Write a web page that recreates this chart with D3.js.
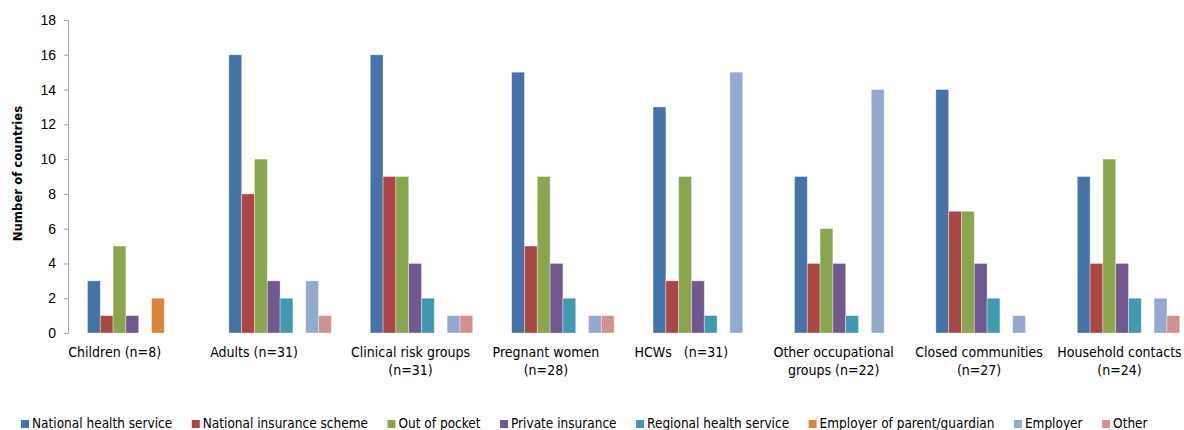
<!DOCTYPE html>
<html>
<head>
<meta charset="utf-8">
<script src="https://cdn.jsdelivr.net/npm/d3@7"></script>
<style>
    body { margin: 0; background: #fff; }
    svg { display: block; font-family: 'DejaVu Sans Condensed', 'DejaVu Sans', sans-serif; }
</style>
</head>
<body>
<svg id="chart" width="1184" height="430"></svg>
<script>
// categories (x axis), each label may wrap onto two lines
const categories = [
    ['Children (n=8)'],
    ['Adults (n=31)'],
    ['Clinical risk groups', '(n=31)'],
    ['Pregnant women', '(n=28)'],
    ['HCWs\u00a0\u00a0\u00a0(n=31)'],
    ['Other occupational', 'groups (n=22)'],
    ['Closed communities', '(n=27)'],
    ['Household contacts', '(n=24)'],
]

const seriesNames = [
    'National health service',
    'National insurance scheme',
    'Out of pocket',
    'Private insurance',
    'Regional health service',
    'Employer of parent/guardian',
    'Employer',
    'Other',
]

// one array per series, in category order
const nationalHealthService = [3, 16, 16, 15, 13, 9, 14, 9]
const nationalInsurance = [1, 8, 9, 5, 3, 4, 7, 4]
const outOfPocket = [5, 10, 9, 9, 9, 6, 7, 10]
const privateInsurance = [1, 3, 4, 4, 3, 4, 4, 4]
const regionalHealth = [0, 2, 2, 2, 1, 1, 2, 2]
const employerOfParent = [2, 0, 0, 0, 0, 0, 0, 0]
const employer = [0, 3, 1, 1, 15, 14, 1, 2]
const other = [0, 1, 1, 1, 0, 0, 0, 1]

const yTicks = [0, 2, 4, 6, 8, 10, 12, 14, 16, 18]

const seriesValues = [
    nationalHealthService, nationalInsurance, outOfPocket, privateInsurance,
    regionalHealth, employerOfParent, employer, other,
]
const colors = ['#4572A7', '#AA4643', '#89A54E', '#71588F', '#4198AF', '#DB843D', '#93A9CF', '#D19392']

// the category labels sit a little left of their group centres in the original
const labelShift = [-24, -26, -11, -17, -23, -12, -8, -9]

const svg = d3.select('#chart')
const plotLeft = 68
const plotTop = 20
const plotBottom = 333
const groupStep = 141.4

const x = d3.scaleBand()
    .domain(d3.range(categories.length))
    .range([plotLeft, plotLeft + groupStep * categories.length])
    .padding(0)

const xInner = d3.scaleBand()
    .domain(d3.range(seriesNames.length))
    .range([0, x.bandwidth()])
    .paddingInner(0)
    .paddingOuter(1.52)

const y = d3.scaleLinear().domain([0, 18]).range([plotBottom, plotTop])

// y axis
const yAxis = svg.append('g')
    .attr('transform', `translate(${plotLeft},0)`)
    .call(d3.axisLeft(y).tickValues(yTicks).tickSize(4).tickPadding(8))
yAxis.select('.domain').attr('stroke', '#A6A6A6').attr('d', `M-4,${plotTop + 0.5}H0.5V${plotBottom + 0.5}H-4`)
yAxis.selectAll('.tick line').attr('stroke', '#A6A6A6')
yAxis.selectAll('.tick text').attr('font-size', 14).attr('fill', '#000').attr('font-family', null)

svg.append('text')
    .attr('transform', `translate(22,${(plotTop + plotBottom) / 2 - 3}) rotate(-90)`)
    .attr('text-anchor', 'middle')
    .attr('font-size', 13)
    .attr('font-weight', 'bold')
    .text('Number of countries')

// bars
const bars = []
seriesValues.forEach((vals, s) => {
    vals.forEach((v, c) => {
        if (v > 0) bars.push({ s, c, v })
    })
})

svg.append('g').attr('class', 'bars')
    .selectAll('rect')
    .data(bars)
    .join('rect')
    .attr('x', d => x(d.c) + xInner(d.s))
    .attr('y', d => y(d.v))
    .attr('width', xInner.bandwidth())
    .attr('height', d => y(0) - y(d.v))
    .attr('fill', d => colors[d.s])
    .attr('stroke', 'rgba(255,255,255,0.45)')
    .attr('stroke-width', 0.8)

// category labels
const catLabels = svg.append('g').attr('class', 'cat-labels')
    .selectAll('text')
    .data(categories)
    .join('text')
    .attr('x', (d, i) => x(i) + x.bandwidth() / 2 + labelShift[i])
    .attr('y', 357)
    .attr('text-anchor', 'middle')
    .attr('font-size', 14)
    .attr('fill', '#000')
catLabels.selectAll('tspan')
    .data(d => d)
    .join('tspan')
    .attr('x', function () { return d3.select(this.parentNode).attr('x') })
    .attr('dy', (d, i) => i === 0 ? 0 : 18)
    .text(d => d)

// legend laid out left to right
const legend = svg.append('g').attr('class', 'legend')
let lx = 21
seriesNames.forEach((name, i) => {
    const item = legend.append('g').attr('transform', `translate(${lx},423)`)
    item.append('rect')
        .attr('x', 0)
        .attr('y', -3)
        .attr('width', 8)
        .attr('height', 8)
        .attr('fill', colors[i])
    const t = item.append('text')
        .attr('x', 11)
        .attr('y', 5)
        .attr('font-size', 13.5)
        .attr('fill', '#000')
        .text(name)
    lx += 11 + t.node().getComputedTextLength() + 19.5
})
</script>
</body>
</html>
